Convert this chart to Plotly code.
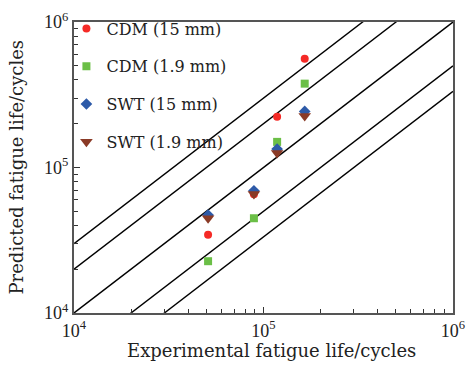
import plotly.graph_objects as go

exp_x = [51000, 89000, 118000, 165000]
cdm15 = [34500, 65500, 223000, 560000]
cdm19 = [22700, 44800, 150000, 377000]
swt15 = [47100, 69100, 134000, 243000]
swt19 = [44800, 65700, 126000, 226000]

factors = [3, 2, 1, 0.5, 1/3]
line_x = [1e4, 1e6]

series = [
    ("CDM (15 mm)", cdm15, "circle", "#f52a26", 8),
    ("CDM (1.9 mm)", cdm19, "square", "#6bbf47", 8),
    ("SWT (15 mm)", swt15, "diamond", "#2d5aa8", 9),
    ("SWT (1.9 mm)", swt19, "triangle-down", "#8a3a26", 11),
]

font = "DejaVu Serif"
tick_font = "Liberation Serif"
fig = go.Figure()
for k in factors:
    fig.add_trace(go.Scatter(x=line_x, y=[v * k for v in line_x], mode="lines",
                             line=dict(color="black", width=1.4), showlegend=False,
                             hoverinfo="skip"))
for i, (name, ys, sym, col, sz) in enumerate(series):
    fig.add_trace(go.Scatter(x=exp_x, y=ys, mode="markers", name=name,
                             legendgroup=str(i),
                             marker=dict(symbol=sym, color=col, size=sz, line=dict(width=0))))

minor_vals = [m * 10 ** e for e in (4, 5) for m in range(2, 10)]
axis_common = dict(
    type="log", showgrid=False, zeroline=False, automargin=False,
    showline=True, linecolor="#555", linewidth=2, mirror=True,
    ticks="inside", ticklen=6, tickwidth=1.2, tickcolor="#333",
    tickvals=[1e4, 1e5, 1e6],
    ticktext=["10<sup>4</sup>", "10<sup>5</sup>", "10<sup>6</sup>"],
    tickfont=dict(family=tick_font, size=18, color="#222"),
    minor=dict(tickvals=minor_vals, ticks="inside", ticklen=4, tickwidth=1.2, tickcolor="#333"),
)
fig.update_xaxes(range=[4, 6], **axis_common)
fig.update_yaxes(range=[4, 6], **axis_common)

fig.add_annotation(text="Experimental fatigue life/cycles", xref="paper", yref="paper",
                   x=0.5224, y=-0.1296, xanchor="center", yanchor="middle", showarrow=False,
                   font=dict(family=font, size=18, color="#222"))
fig.add_annotation(text="Predicted fatigue life/cycles", xref="paper", yref="paper",
                   x=-0.153, y=0.5, xanchor="center", yanchor="middle", showarrow=False,
                   textangle=-90, font=dict(family=font, size=18, color="#222"))

fig.update_layout(
    width=466, height=366,
    margin=dict(l=74, r=13, t=12, b=53),
    paper_bgcolor="white", plot_bgcolor="white",
    legend=dict(x=-0.02, y=1.036, xanchor="left", yanchor="top",
                font=dict(family=font, size=16, color="#222"),
                bgcolor="rgba(0,0,0,0)", tracegroupgap=14, itemwidth=30),
)
fig.write_html("out.html", config={"displayModeBar": False},
               post_script="document.body.style.margin='0px';document.body.style.overflow='hidden';")
